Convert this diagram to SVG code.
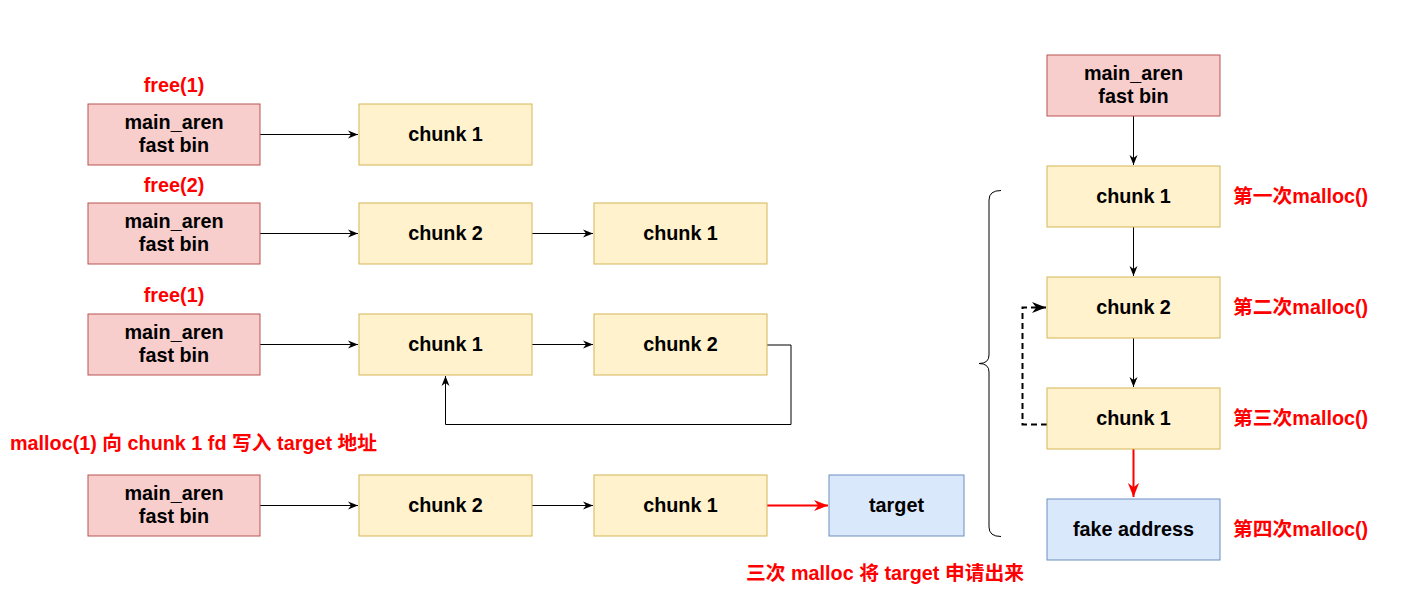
<svg xmlns="http://www.w3.org/2000/svg" width="1406" height="599" viewBox="0 0 1406 599">
<defs>
<style>
.pink{fill:#f8cecc;stroke:#b85450;stroke-width:1}
.yel{fill:#fff2cc;stroke:#d6b656;stroke-width:1}
.blue{fill:#dae8fc;stroke:#6c8ebf;stroke-width:1}
.t{font-family:"Liberation Sans","Noto Sans CJK SC",sans-serif;font-size:19.8px;font-weight:bold;fill:#000;text-anchor:middle}
.r{font-family:"Liberation Sans","Noto Sans CJK SC",sans-serif;font-size:19.8px;font-weight:bold;fill:#ff0000}
.c{fill:none;stroke:#000;stroke-width:1}
.cr{fill:none;stroke:#ff0000;stroke-width:2}
</style>
<marker id="a" viewBox="0 0 10 10" refX="10" refY="5" markerWidth="10" markerHeight="10" markerUnits="userSpaceOnUse" orient="auto"><path d="M0,1 L10,5 L0,9 L3,5 Z" fill="#000"/></marker>
<marker id="ar" viewBox="0 0 10 10" refX="10" refY="5" markerWidth="14" markerHeight="14" markerUnits="userSpaceOnUse" orient="auto"><path d="M0,1 L10,5 L0,9 L3,5 Z" fill="#ff0000"/></marker>
<marker id="ad" viewBox="0 0 10 10" refX="10" refY="5" markerWidth="14" markerHeight="14" markerUnits="userSpaceOnUse" orient="auto"><path d="M0,1 L10,5 L0,9 L3,5 Z" fill="#000"/></marker>
</defs>
<rect width="1406" height="599" fill="#fff"/>
<g id="connectors">
<path class="c" d="M260,134.5 H358" marker-end="url(#a)"/>
<path class="c" d="M260,233.5 H358" marker-end="url(#a)"/>
<path class="c" d="M532,233.5 H593" marker-end="url(#a)"/>
<path class="c" d="M260,344.5 H358" marker-end="url(#a)"/>
<path class="c" d="M532,344.5 H593" marker-end="url(#a)"/>
<path class="c" d="M767,345 H791 V424.5 H445.5 V376" marker-end="url(#a)" stroke="#333"/>
<path class="c" d="M260,505.5 H358" marker-end="url(#a)"/>
<path class="c" d="M532,505.5 H593" marker-end="url(#a)"/>
<path class="cr" d="M767,505.5 H828" marker-end="url(#ar)"/>
<path class="c" d="M1133.5,116 V165" marker-end="url(#a)"/>
<path class="c" d="M1133.5,227 V276" marker-end="url(#a)"/>
<path class="c" d="M1133.5,338 V387" marker-end="url(#a)"/>
<path class="cr" d="M1133.5,449 V497" marker-end="url(#ar)"/>
<path fill="none" stroke="#000" stroke-width="2" stroke-dasharray="6,4" d="M1047,424.5 H1022.5 V307.5 H1046" marker-end="url(#ad)"/>
<path class="c" d="M1001,190.5 Q989,190.5 989,200 V355 Q989,363.5 979,363.5 Q989,363.5 989,372 V527 Q989,536.5 1001,536.5"/>
</g>
<g id="n1"><rect class="pink" x="88" y="104" width="172" height="61"/><text class="t" x="174" y="129">main_aren</text><text class="t" x="174" y="152">fast bin</text></g>
<g id="n2"><rect class="yel" x="359" y="104" width="173" height="61"/><text class="t" x="445.5" y="141">chunk 1</text></g>
<g id="n3"><rect class="pink" x="88" y="203" width="172" height="61"/><text class="t" x="174" y="228">main_aren</text><text class="t" x="174" y="251">fast bin</text></g>
<g id="n4"><rect class="yel" x="359" y="203" width="173" height="61"/><text class="t" x="445.5" y="240">chunk 2</text></g>
<g id="n5"><rect class="yel" x="594" y="203" width="173" height="61"/><text class="t" x="680.5" y="240">chunk 1</text></g>
<g id="n6"><rect class="pink" x="88" y="314" width="172" height="61"/><text class="t" x="174" y="339">main_aren</text><text class="t" x="174" y="362">fast bin</text></g>
<g id="n7"><rect class="yel" x="359" y="314" width="173" height="61"/><text class="t" x="445.5" y="351">chunk 1</text></g>
<g id="n8"><rect class="yel" x="594" y="314" width="173" height="61"/><text class="t" x="680.5" y="351">chunk 2</text></g>
<g id="n9"><rect class="pink" x="88" y="475" width="172" height="61"/><text class="t" x="174" y="500">main_aren</text><text class="t" x="174" y="523">fast bin</text></g>
<g id="n10"><rect class="yel" x="359" y="475" width="173" height="61"/><text class="t" x="445.5" y="512">chunk 2</text></g>
<g id="n11"><rect class="yel" x="594" y="475" width="173" height="61"/><text class="t" x="680.5" y="512">chunk 1</text></g>
<g id="n12"><rect class="blue" x="829" y="475" width="135" height="61"/><text class="t" x="896.5" y="512">target</text></g>
<g id="n13"><rect class="pink" x="1047" y="55" width="173" height="61"/><text class="t" x="1133.5" y="80">main_aren</text><text class="t" x="1133.5" y="103">fast bin</text></g>
<g id="n14"><rect class="yel" x="1047" y="166" width="173" height="61"/><text class="t" x="1133.5" y="203">chunk 1</text></g>
<g id="n15"><rect class="yel" x="1047" y="277" width="173" height="61"/><text class="t" x="1133.5" y="314">chunk 2</text></g>
<g id="n16"><rect class="yel" x="1047" y="388" width="173" height="61"/><text class="t" x="1133.5" y="425">chunk 1</text></g>
<g id="n17"><rect class="blue" x="1047" y="499" width="173" height="61"/><text class="t" x="1133.5" y="536">fake address</text></g>
<g id="labels">
<text class="r" x="174" y="92" text-anchor="middle">free(1)</text>
<text class="r" x="174" y="192" text-anchor="middle">free(2)</text>
<text class="r" x="174" y="302" text-anchor="middle">free(1)</text>
<text class="r" x="10" y="450">malloc(1) 向 chunk 1 fd 写入 target 地址</text>
<text class="r" x="885" y="580" text-anchor="middle">三次 malloc 将 target 申请出来</text>
<text class="r" x="1233" y="203">第一次malloc()</text>
<text class="r" x="1233" y="314">第二次malloc()</text>
<text class="r" x="1233" y="425">第三次malloc()</text>
<text class="r" x="1233" y="536">第四次malloc()</text>
</g>
</svg>
